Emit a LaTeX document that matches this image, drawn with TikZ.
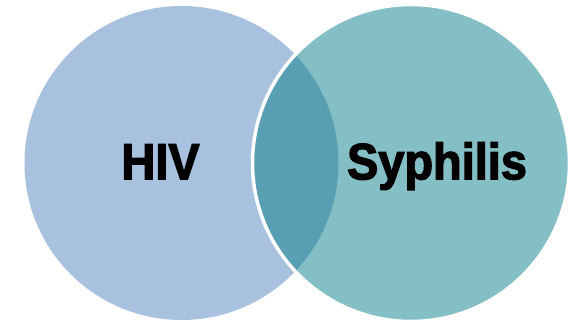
\documentclass[tikz,border=0pt]{standalone}
\usepackage{fontspec}
\setmainfont[FakeStretch=0.92,FakeBold=2.5]{Liberation Sans}
\begin{document}
\begin{tikzpicture}[x=1pt,y=1pt,
  lbl/.style={anchor=base,inner sep=0pt,font=\fontsize{51}{51}\selectfont\bfseries,text=black}]
\definecolor{hivblue}{HTML}{A8C1DF}
\definecolor{syphteal}{HTML}{84BFC5}
\definecolor{lens}{HTML}{599FB4}
\useasboundingbox (0,0) rectangle (576,320);
\coordinate (cl) at (181.5,157);
\coordinate (cr) at (411,157);
\fill[hivblue] (cl) circle[radius=157];
\fill[syphteal] (cr) circle[radius=158.5];
\begin{scope}
  \clip (cl) circle[radius=157];
  \fill[lens] (cr) circle[radius=158.5];
\end{scope}
\draw[white,line width=3.5] (cr) circle[radius=158.5];
\node[lbl] (hiv) at (160.5,140.7) {HIV};
\node[lbl] (syph) at (437,140.7) {Syphilis};
\end{tikzpicture}
\end{document}
